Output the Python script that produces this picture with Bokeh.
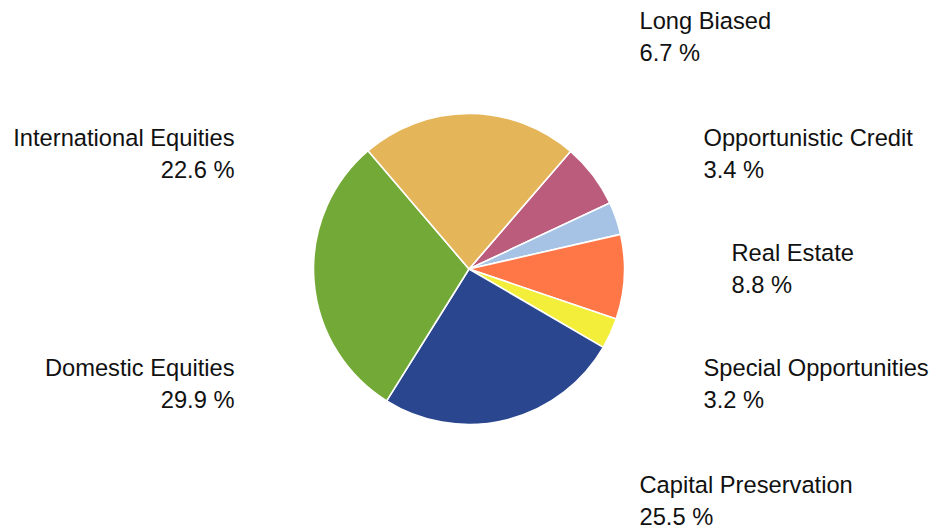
import math
from bokeh.plotting import figure
from bokeh.models import Range1d, ColumnDataSource
from bokeh.core.properties import value
from bokeh.embed import file_html
from bokeh.resources import INLINE

# data (clockwise order starting from Long Biased)
categories = ["Long Biased", "Opportunistic Credit", "Real Estate", "Special Opportunities",
              "Capital Preservation", "Domestic Equities", "International Equities"]
shares = [6.7, 3.4, 8.8, 3.2, 25.5, 29.9, 22.6]
colors = ["#BC5C7C", "#A6C3E5", "#FF7747", "#F2EE3A", "#29468E", "#73A936", "#E5B55A"]

# layout (styles / positions), in reference screen pixels
W, H = 930, 530
CX, CY, R = 468.5, H - 268.5, 155.5
START_DEG = 40.8  # clockwise from 12 o'clock
label_x = [639, 703, 731, 703, 639, 234, 234]
label_mid_y = [20, 137, 252, 367, 484, 367, 137]  # screen y of first line's middle
label_align = ["left", "left", "left", "left", "left", "right", "right"]
LINE_GAP = 32.5
FONT = value("Liberation Sans")
FSIZE = "23.7px"

total = sum(shares)
starts, ends = [], []
acc = START_DEG
for s in shares:
    a1 = acc
    a2 = acc + s / total * 360.0
    starts.append(math.radians(90 - a2))
    ends.append(math.radians(90 - a1))
    acc = a2

p = figure(width=W, height=H, output_backend="svg", toolbar_location=None,
           x_range=Range1d(0, W), y_range=Range1d(0, H),
           min_border=0, outline_line_color=None)
p.axis.visible = False
p.grid.visible = False
p.background_fill_color = "white"

src = ColumnDataSource(dict(x=[CX] * len(shares), y=[CY] * len(shares),
                            start=starts, end=ends, color=colors))
p.wedge(x="x", y="y", radius=R, start_angle="start", end_angle="end",
        fill_color="color", line_color="white", line_width=1.6, source=src)

for align in ("left", "right"):
    idx = [i for i, a in enumerate(label_align) if a == align]
    xs = [label_x[i] for i in idx]
    y1 = [H - label_mid_y[i] for i in idx]
    y2 = [H - label_mid_y[i] - LINE_GAP for i in idx]
    t1 = [categories[i] for i in idx]
    t2 = [f"{shares[i]:.1f} %" for i in idx]
    p.text(x=xs, y=y1, text=t1, text_align=align, text_baseline="middle",
           text_font=FONT, text_font_size=FSIZE, text_color="#111111")
    p.text(x=xs, y=y2, text=t2, text_align=align, text_baseline="middle",
           text_font=FONT, text_font_size=FSIZE, text_color="#111111")

open("out.html", "w").write(file_html(p, INLINE))
